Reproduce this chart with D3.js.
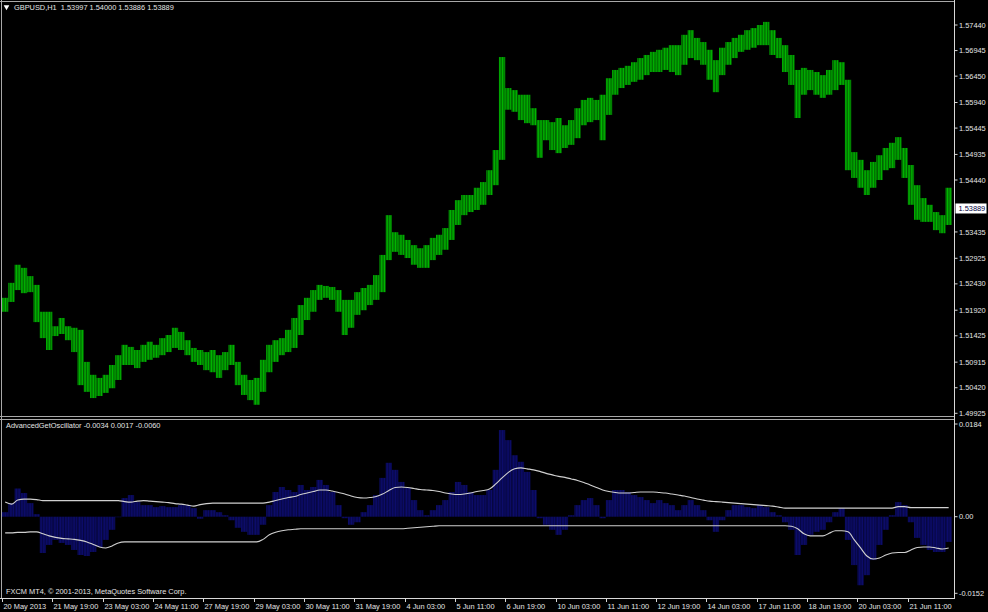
<!DOCTYPE html>
<html><head><meta charset="utf-8">
<script src="https://cdn.jsdelivr.net/npm/d3@7"></script>
<style>html,body{margin:0;padding:0;background:#000;overflow:hidden}</style>
</head><body><svg id="c" width="988" height="612"></svg>
<script>
const symbolTitle = "GBPUSD,H1";
const lastQuote = ["1.53997", "1.54000", "1.53886", "1.53889"];
const oscTitle = "AdvancedGetOscillator";
const oscLast = ["-0.0034", "0.0017", "-0.0060"];
const copyright = "FXCM MT4, \u00A9 2001-2013, MetaQuotes Software Corp.";
const barsPerSample = 4;
const totalBars = 604;
const currentPrice = 1.53889;

const highs = [1.5216,1.5245,1.5280,1.5274,1.5258,1.5241,1.5189,1.5189,1.5161,1.5177,
 1.5161,1.5158,1.5154,1.5092,1.5067,1.5061,1.5067,1.5086,1.5105,1.5125,
 1.5121,1.5115,1.5125,1.5131,1.5125,1.5138,1.5144,1.5158,1.5150,1.5134,
 1.5119,1.5115,1.5111,1.5115,1.5105,1.5111,1.5125,1.5092,1.5067,1.5057,
 1.5061,1.5096,1.5125,1.5134,1.5138,1.5154,1.5177,1.5202,1.5216,1.5231,
 1.5241,1.5239,1.5237,1.5231,1.5212,1.5212,1.5227,1.5235,1.5241,1.5260,
 1.5299,1.5376,1.5343,1.5338,1.5328,1.5318,1.5312,1.5318,1.5332,1.5338,
 1.5351,1.5386,1.5405,1.5415,1.5415,1.5429,1.5440,1.5463,1.5502,1.5682,
 1.5622,1.5618,1.5609,1.5609,1.5583,1.5560,1.5560,1.5556,1.5564,1.5550,
 1.5560,1.5583,1.5599,1.5603,1.5599,1.5609,1.5641,1.5657,1.5661,1.5665,
 1.5672,1.5680,1.5686,1.5692,1.5696,1.5700,1.5705,1.5705,1.5725,1.5734,
 1.5719,1.5711,1.5696,1.5676,1.5700,1.5711,1.5719,1.5725,1.5734,1.5738,
 1.5744,1.5750,1.5734,1.5719,1.5705,1.5686,1.5657,1.5661,1.5657,1.5653,
 1.5647,1.5657,1.5676,1.5672,1.5638,1.5498,1.5483,1.5463,1.5479,1.5492,
 1.5506,1.5516,1.5527,1.5506,1.5473,1.5434,1.5409,1.5396,1.5382,1.5376,
 1.5429];

const lows = [1.5189,1.5208,1.5231,1.5225,1.5227,1.5169,1.5138,1.5115,1.5142,1.5146,
 1.5134,1.5111,1.5047,1.5034,1.5022,1.5026,1.5032,1.5041,1.5057,1.5086,
 1.5086,1.5080,1.5092,1.5096,1.5100,1.5105,1.5111,1.5119,1.5115,1.5105,
 1.5092,1.5086,1.5076,1.5072,1.5061,1.5076,1.5086,1.5047,1.5028,1.5018,
 1.5009,1.5034,1.5072,1.5092,1.5105,1.5111,1.5119,1.5144,1.5173,1.5189,
 1.5212,1.5216,1.5212,1.5189,1.5144,1.5158,1.5183,1.5192,1.5202,1.5212,
 1.5227,1.5289,1.5305,1.5299,1.5293,1.5280,1.5274,1.5274,1.5289,1.5299,
 1.5309,1.5328,1.5357,1.5376,1.5382,1.5386,1.5396,1.5415,1.5434,1.5483,
 1.5580,1.5576,1.5560,1.5554,1.5550,1.5487,1.5521,1.5502,1.5496,1.5506,
 1.5512,1.5525,1.5550,1.5556,1.5560,1.5521,1.5570,1.5609,1.5622,1.5628,
 1.5634,1.5638,1.5647,1.5653,1.5653,1.5657,1.5653,1.5647,1.5667,1.5680,
 1.5676,1.5667,1.5638,1.5614,1.5647,1.5667,1.5680,1.5692,1.5696,1.5700,
 1.5705,1.5705,1.5686,1.5680,1.5653,1.5628,1.5564,1.5609,1.5618,1.5609,
 1.5603,1.5609,1.5618,1.5628,1.5463,1.5448,1.5429,1.5415,1.5429,1.5444,
 1.5463,1.5467,1.5483,1.5448,1.5396,1.5367,1.5363,1.5363,1.5347,1.5341,
 1.5357];

const osc = [0.0009,0.0027,0.0056,0.0047,0.0027,0.0005,-0.0072,-0.0056,-0.0046,-0.0052,
 -0.0056,-0.0066,-0.0076,-0.0078,-0.0070,-0.0060,-0.0046,-0.0026,-0.0001,0.0037,
 0.0043,0.0029,0.0023,0.0023,0.0019,0.0021,0.0019,0.0019,0.0023,0.0023,
 0.0017,-0.0004,0.0013,0.0013,0.0009,0.0003,-0.0007,-0.0022,-0.0030,-0.0036,
 -0.0036,-0.0016,0.0023,0.0049,0.0059,0.0053,0.0049,0.0063,0.0053,0.0059,
 0.0073,0.0063,0.0049,0.0023,-0.0003,-0.0016,-0.0011,0.0009,0.0023,0.0043,
 0.0077,0.0107,0.0093,0.0069,0.0057,0.0033,0.0013,0.0003,0.0013,0.0023,
 0.0033,0.0049,0.0069,0.0063,0.0049,0.0043,0.0043,0.0053,0.0093,0.0172,
 0.0152,0.0122,0.0109,0.0089,0.0053,-0.0003,-0.0016,-0.0026,-0.0036,-0.0026,
 0.0003,0.0023,0.0033,0.0037,0.0023,-0.0003,0.0033,0.0053,0.0053,0.0049,
 0.0043,0.0039,0.0033,0.0027,0.0033,0.0027,0.0023,0.0013,0.0023,0.0033,
 0.0023,0.0013,-0.0007,-0.0030,-0.0007,0.0013,0.0023,0.0023,0.0019,0.0017,
 0.0023,0.0019,0.0009,0.0003,-0.0011,-0.0026,-0.0076,-0.0056,-0.0036,-0.0030,
 -0.0026,-0.0011,0.0009,0.0017,-0.0046,-0.0096,-0.0136,-0.0116,-0.0086,-0.0056,
 -0.0026,0.0003,0.0029,0.0023,-0.0011,-0.0042,-0.0056,-0.0066,-0.0070,-0.0070,
 -0.0050];

const upperBand = [0.0029,0.0025,0.0033,0.0035,0.0035,0.0034,0.0032,0.0032,0.0032,0.0032,
 0.0032,0.0032,0.0032,0.0032,0.0032,0.0032,0.0032,0.0032,0.0032,0.0030,
 0.0029,0.0031,0.0032,0.0031,0.0030,0.0029,0.0028,0.0026,0.0025,0.0023,
 0.0021,0.0024,0.0026,0.0027,0.0027,0.0027,0.0027,0.0027,0.0027,0.0027,
 0.0027,0.0027,0.0029,0.0032,0.0035,0.0038,0.0040,0.0044,0.0047,0.0050,
 0.0053,0.0053,0.0051,0.0048,0.0045,0.0041,0.0038,0.0037,0.0038,0.0040,
 0.0045,0.0052,0.0058,0.0059,0.0058,0.0056,0.0054,0.0053,0.0052,0.0050,
 0.0047,0.0045,0.0044,0.0045,0.0047,0.0050,0.0052,0.0055,0.0065,0.0077,
 0.0088,0.0095,0.0097,0.0095,0.0093,0.0090,0.0086,0.0083,0.0080,0.0078,
 0.0075,0.0072,0.0068,0.0063,0.0058,0.0053,0.0050,0.0048,0.0047,0.0047,
 0.0048,0.0049,0.0049,0.0049,0.0048,0.0047,0.0045,0.0043,0.0041,0.0038,
 0.0035,0.0033,0.0031,0.0030,0.0029,0.0028,0.0027,0.0026,0.0025,0.0024,
 0.0023,0.0022,0.0021,0.0019,0.0017,0.0017,0.0017,0.0017,0.0017,0.0017,
 0.0017,0.0017,0.0017,0.0017,0.0017,0.0017,0.0017,0.0017,0.0017,0.0017,
 0.0017,0.0017,0.0020,0.0020,0.0018,0.0018,0.0018,0.0018,0.0018,0.0018,
 0.0018];

const lowerBand = [-0.0032,-0.0032,-0.0031,-0.0031,-0.0030,-0.0030,-0.0034,-0.0038,-0.0041,-0.0043,
 -0.0044,-0.0045,-0.0047,-0.0050,-0.0055,-0.0060,-0.0062,-0.0058,-0.0052,-0.0050,
 -0.0050,-0.0050,-0.0050,-0.0050,-0.0050,-0.0050,-0.0050,-0.0050,-0.0050,-0.0050,
 -0.0050,-0.0050,-0.0050,-0.0050,-0.0050,-0.0050,-0.0050,-0.0050,-0.0050,-0.0050,
 -0.0050,-0.0045,-0.0036,-0.0031,-0.0028,-0.0026,-0.0025,-0.0024,-0.0024,-0.0024,
 -0.0024,-0.0024,-0.0024,-0.0024,-0.0024,-0.0024,-0.0024,-0.0024,-0.0024,-0.0024,
 -0.0024,-0.0024,-0.0024,-0.0024,-0.0023,-0.0022,-0.0021,-0.0020,-0.0019,-0.0018,
 -0.0018,-0.0018,-0.0018,-0.0018,-0.0018,-0.0018,-0.0018,-0.0018,-0.0018,-0.0018,
 -0.0018,-0.0018,-0.0018,-0.0018,-0.0018,-0.0018,-0.0018,-0.0018,-0.0018,-0.0018,
 -0.0018,-0.0018,-0.0018,-0.0018,-0.0018,-0.0018,-0.0018,-0.0018,-0.0018,-0.0018,
 -0.0018,-0.0018,-0.0018,-0.0018,-0.0018,-0.0018,-0.0018,-0.0018,-0.0018,-0.0018,
 -0.0018,-0.0018,-0.0018,-0.0018,-0.0018,-0.0018,-0.0018,-0.0018,-0.0018,-0.0018,
 -0.0018,-0.0018,-0.0018,-0.0018,-0.0018,-0.0019,-0.0024,-0.0034,-0.0038,-0.0038,
 -0.0038,-0.0033,-0.0028,-0.0028,-0.0030,-0.0046,-0.0062,-0.0078,-0.0084,-0.0082,
 -0.0076,-0.0072,-0.0071,-0.0071,-0.0066,-0.0061,-0.0060,-0.0060,-0.0062,-0.0064,
 -0.0062];

const priceTicks = [1.57440,1.56945,1.56450,1.55940,1.55445,1.54935,1.54440,1.53435,1.52925,1.52430,1.51920,1.51425,1.50915,1.50420,1.49925];
const oscTicks = [0.0184, 0, -0.0152];
const oscTickLabels = ["0.0184", "0.00", "-0.0152"];
const timeLabels = ["20 May 2013","21 May 19:00","23 May 03:00","24 May 11:00","27 May 19:00","29 May 03:00","30 May 11:00","31 May 19:00","4 Jun 03:00","5 Jun 11:00","6 Jun 19:00","10 Jun 03:00","11 Jun 11:00","12 Jun 19:00","14 Jun 03:00","17 Jun 11:00","18 Jun 19:00","20 Jun 03:00","21 Jun 11:00"];
const timeLabelStep = 32;

// ---- drawing ----
const svg = d3.select("#c");
const FONT = "'Liberation Sans', Arial, sans-serif";
const TXT = "#e4e4e4", GRID = "#a8a8a8";
const axisX = 954.5;

svg.append("rect").attr("width", 988).attr("height", 612).attr("fill", "#000");

const xBar = d3.scaleLinear().domain([0, totalBars]).range([2, 951.8]);
const yPrice = d3.scaleLinear().domain([1.49925, 1.57440]).range([413.3, 25]);
const yOsc = d3.scaleLinear().domain([-0.0152, 0.0184]).range([593.3, 424]);

const samples = highs.map((h, i) => ({i, h, l: lows[i], o: osc[i], u: upperBand[i], d: lowerBand[i]}));
const sw = xBar(barsPerSample) - xBar(0);
const bw = xBar(1) - xBar(0);

const defs = svg.append("defs");
defs.append("clipPath").attr("id", "mainClip")
  .append("rect").attr("x", 2).attr("y", 3).attr("width", axisX - 2.5).attr("height", 412);
defs.append("clipPath").attr("id", "oscClip")
  .append("rect").attr("x", 2).attr("y", 420).attr("width", axisX - 2.5).attr("height", 178);
// one stripe per hourly bar: texture of the MT4 bar chart
const pg = defs.append("pattern").attr("id", "barStripes").attr("patternUnits", "userSpaceOnUse")
  .attr("x", xBar(0)).attr("y", 0).attr("width", bw).attr("height", 4);
pg.append("rect").attr("width", bw).attr("height", 4).attr("fill", "#003c00");
pg.append("rect").attr("width", 1.05).attr("height", 4).attr("fill", "#00b800");
const ph = defs.append("pattern").attr("id", "histStripes").attr("patternUnits", "userSpaceOnUse")
  .attr("x", xBar(0)).attr("y", 0).attr("width", bw).attr("height", 4);
ph.append("rect").attr("width", bw).attr("height", 4).attr("fill", "#04043a");
ph.append("rect").attr("width", 1).attr("height", 4).attr("fill", "#0c0c6c");

// price bars
svg.append("g").attr("clip-path", "url(#mainClip)")
  .selectAll("rect").data(samples).join("rect")
  .attr("x", d => xBar(d.i * barsPerSample))
  .attr("width", sw)
  .attr("y", d => yPrice(d.h))
  .attr("height", d => Math.max(1, yPrice(d.l) - yPrice(d.h)))
  .attr("fill", "url(#barStripes)");

// oscillator histogram
const og = svg.append("g").attr("clip-path", "url(#oscClip)");
og.selectAll("rect").data(samples).join("rect")
  .attr("x", d => xBar(d.i * barsPerSample))
  .attr("width", sw)
  .attr("y", d => Math.min(yOsc(0), yOsc(d.o)))
  .attr("height", d => Math.abs(yOsc(d.o) - yOsc(0)))
  .attr("fill", "url(#histStripes)");

const line = key => d3.line().x(d => xBar(d.i * barsPerSample + barsPerSample / 2)).y(d => yOsc(d[key])).curve(d3.curveMonotoneX);
og.append("path").datum(samples).attr("d", line("u")).attr("fill", "none").attr("stroke", "#d0d0d0").attr("stroke-width", 1.1);
og.append("path").datum(samples).attr("d", line("d")).attr("fill", "none").attr("stroke", "#d0d0d0").attr("stroke-width", 1.1);

// frame lines
const hl = (x1, x2, y, c) => svg.append("line").attr("x1", x1).attr("x2", x2).attr("y1", y).attr("y2", y).attr("stroke", c).attr("stroke-width", 1);
const vl = (x, y1, y2, c) => svg.append("line").attr("x1", x).attr("x2", x).attr("y1", y1).attr("y2", y2).attr("stroke", c).attr("stroke-width", 1);
hl(0, axisX, 1.5, GRID);
vl(1.5, 0, 598, GRID);
hl(0, axisX, 416.5, GRID);
hl(0, axisX, 419.5, GRID);
hl(0, axisX, 598.5, "#d8d8d8");
vl(axisX, 0, 599, "#d8d8d8");

// price axis
const pa = svg.append("g");
priceTicks.forEach(p => {
  const y = yPrice(p);
  pa.append("line").attr("x1", axisX).attr("x2", axisX + 3).attr("y1", y).attr("y2", y).attr("stroke", "#d8d8d8");
  pa.append("text").attr("x", 959).attr("y", y + 2.6).text(p.toFixed(5))
    .attr("font-family", FONT).attr("font-size", 7.4).attr("fill", TXT);
});
// current price box
const cy = yPrice(currentPrice);
svg.append("rect").attr("x", 955.5).attr("y", cy - 5).attr("width", 31).attr("height", 10).attr("fill", "#ffffff");
svg.append("text").attr("x", 958.5).attr("y", cy + 2.6).text(currentPrice.toFixed(5))
  .attr("font-family", FONT).attr("font-size", 7.4).attr("fill", "#000040");

// osc axis
oscTicks.forEach((v, i) => {
  const y = yOsc(v);
  svg.append("line").attr("x1", axisX).attr("x2", axisX + 3).attr("y1", y).attr("y2", y).attr("stroke", "#d8d8d8");
  svg.append("text").attr("x", 959).attr("y", y + 2.6).text(oscTickLabels[i])
    .attr("font-family", FONT).attr("font-size", 7.4).attr("fill", TXT);
});

// time axis
timeLabels.forEach((t, i) => {
  const x = Math.round(xBar(i * timeLabelStep)) + 0.5;
  svg.append("line").attr("x1", x).attr("x2", x).attr("y1", 598.5).attr("y2", 602).attr("stroke", "#d8d8d8");
  svg.append("text").attr("x", x + 1).attr("y", 608.5).text(t)
    .attr("font-family", FONT).attr("font-size", 7.4).attr("fill", TXT);
});

// titles
svg.append("path").attr("d", d3.symbol(d3.symbolTriangle, 14)()).attr("transform", "translate(6.5,7) rotate(180)").attr("fill", "#ffffff");
svg.append("text").attr("x", 14).attr("y", 10).text(symbolTitle + "  " + lastQuote.join(" "))
  .attr("font-family", FONT).attr("font-size", 7.4).attr("fill", TXT).style("white-space", "pre");
svg.append("text").attr("x", 6).attr("y", 428).text(oscTitle + " " + oscLast.join(" "))
  .attr("font-family", FONT).attr("font-size", 7.4).attr("fill", TXT);
svg.append("text").attr("x", 6).attr("y", 593.5).text(copyright)
  .attr("font-family", FONT).attr("font-size", 7.4).attr("fill", TXT);
</script></body></html>
